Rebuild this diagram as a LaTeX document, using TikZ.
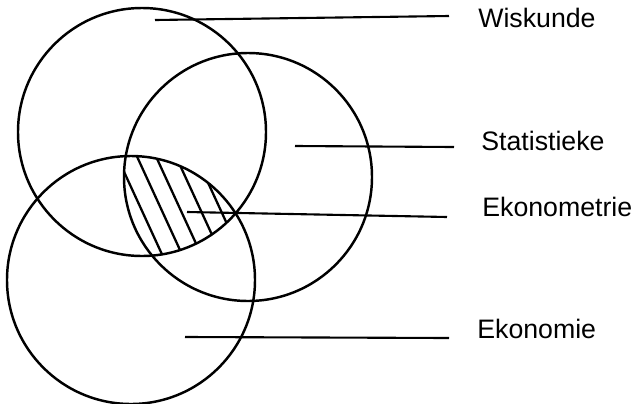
\documentclass[tikz,border=0pt]{standalone}
\usepackage{fontspec}
\setmainfont{Liberation Sans}
\tikzset{
  venn/.style={line width=1.4pt},
  hatchline/.style={line width=1.3pt},
  labelline/.style={line width=1.2pt},
  subject/.style={anchor=base west, inner sep=0pt, font=\fontsize{15.2}{18}\selectfont}
}

\begin{document}
\begin{tikzpicture}[x=0.02cm, y=-0.02cm]
  \useasboundingbox (0,0) rectangle (633,403);
  % circle centres
  \coordinate (wis) at (142,132);
  \coordinate (stat) at (248,177);
  \coordinate (eko) at (131,280);
  % hatched overlap of all three
  \begin{scope}
    \clip (wis) circle (124);
    \clip (stat) circle (124);
    \clip (eko) circle (124);
    \foreach \x in {137,157,176,196,216}
      \draw[hatchline] (\x-46,100) -- (\x+46,300);
  \end{scope}
  \draw[venn] (wis) circle (124);
  \draw[venn] (stat) circle (124);
  \draw[venn] (eko) circle (124);
  % labels
  \node[subject] (wisLbl) at (478,27) {Wiskunde};
  \node[subject] (statLbl) at (481,150) {Statistieke};
  \node[subject] (ekmLbl) at (482,216) {Ekonometrie};
  \node[subject] (ekoLbl) at (477,338) {Ekonomie};
  % pointer lines
  \coordinate (wisIn) at (155,20);
  \coordinate (wisOut) at (449,16);
  \coordinate (statIn) at (295,146);
  \coordinate (statOut) at (454,147);
  \coordinate (ekmIn) at (187,212);
  \coordinate (ekmOut) at (447,217);
  \coordinate (ekoIn) at (185,337);
  \coordinate (ekoOut) at (449,338);
  \draw[labelline] (wisIn) -- (wisOut);
  \draw[labelline] (statIn) -- (statOut);
  \draw[labelline] (ekmIn) -- (ekmOut);
  \draw[labelline] (ekoIn) -- (ekoOut);
\end{tikzpicture}
\end{document}
